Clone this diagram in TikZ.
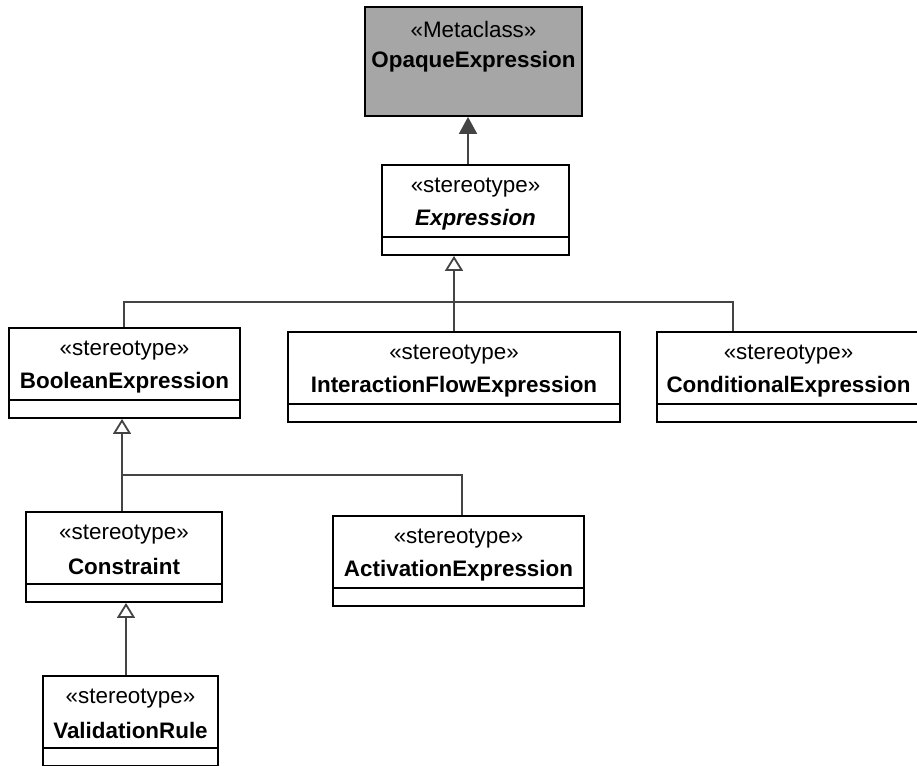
\documentclass[tikz,border=0pt]{standalone}
\usepackage{fontspec}
\setmainfont{Liberation Sans}
\usetikzlibrary{arrows.meta}
\definecolor{metagray}{HTML}{A6A6A6}
\definecolor{conngray}{HTML}{444444}
\newcommand\umlclass[8]{%
  \node[umlbox, fill=#8, minimum width={#4-#2}, minimum height={#5-#3}] (#1) at ({(#2+#4)/2},{(#3+#5)/2}) {};
  \node[stereo] (#1-s) at ({(#2+#4)/2},{#3+22.5}) {#6};
  \node[umltitle] (#1-t) at ({(#2+#4)/2},{#3+54.5}) {#7};
}
\newcommand\umlcomp[1]{%
  \draw[compline] ([yshift=19pt]#1.south west) -- ([yshift=19pt]#1.south east);
}
\begin{document}
\begin{tikzpicture}[x=1pt,y=-1pt,
  umlbox/.style={draw=black, line width=1.8pt, rectangle, inner sep=0pt},
  compline/.style={draw=black, line width=1.8pt},
  stereo/.style={font=\fontsize{22.4}{26}\selectfont, inner sep=0pt},
  umltitle/.style={font=\fontsize{22.4}{26}\selectfont\bfseries, inner sep=0pt},
  conn/.style={draw=conngray, line width=1.8pt},
  genarrow/.style={-{Triangle[open, width=18pt, length=15pt, fill=white]}},
  metaarrow/.style={-{Triangle[width=18pt, length=17pt]}}
]
\useasboundingbox (0,0) rectangle (917,765);

\umlclass{opaque}{365}{7}{582}{116}{«Metaclass»}{OpaqueExpression}{metagray}
\umlclass{expr}{382}{165}{569}{255}{«stereotype»}{\itshape Expression}{white}
\umlcomp{expr}
\umlclass{bool}{9}{328}{240}{418}{«stereotype»}{BooleanExpression}{white}
\umlcomp{bool}
\umlclass{ife}{288}{332}{620}{422}{«stereotype»}{InteractionFlowExpression}{white}
\umlcomp{ife}
\umlclass{cond}{657}{332}{920}{422}{«stereotype»}{ConditionalExpression}{white}
\umlcomp{cond}
\umlclass{cons}{26}{512}{222}{602}{«stereotype»}{Constraint}{white}
\umlcomp{cons}
\umlclass{act}{333}{516}{584}{606}{«stereotype»}{ActivationExpression}{white}
\umlcomp{act}
\umlclass{vr}{43}{676}{218}{766}{«stereotype»}{ValidationRule}{white}
\umlcomp{vr}

% extension arrow
\coordinate (xa) at (468,0);
\draw[conn, metaarrow] (expr.north -| xa) -- (opaque.south -| xa);

% generalizations to Expression
\coordinate (xg) at (454,0);
\coordinate (xb) at (124,0);
\coordinate (xc) at (733,0);
\coordinate (j1) at (454,302);
\draw[conn, genarrow] (ife.north -| xg) -- (expr.south -| xg);
\draw[conn] (bool.north -| xb) |- (j1) -| (cond.north -| xc);

% generalizations to BooleanExpression
\coordinate (xk) at (122,0);
\coordinate (xact) at (462,0);
\coordinate (j2) at (122,475);
\draw[conn, genarrow] (cons.north -| xk) -- (bool.south -| xk);
\draw[conn] (j2) -| (act.north -| xact);

% generalization to Constraint
\coordinate (xv) at (126,0);
\draw[conn, genarrow] (vr.north -| xv) -- (cons.south -| xv);
\end{tikzpicture}
\end{document}
